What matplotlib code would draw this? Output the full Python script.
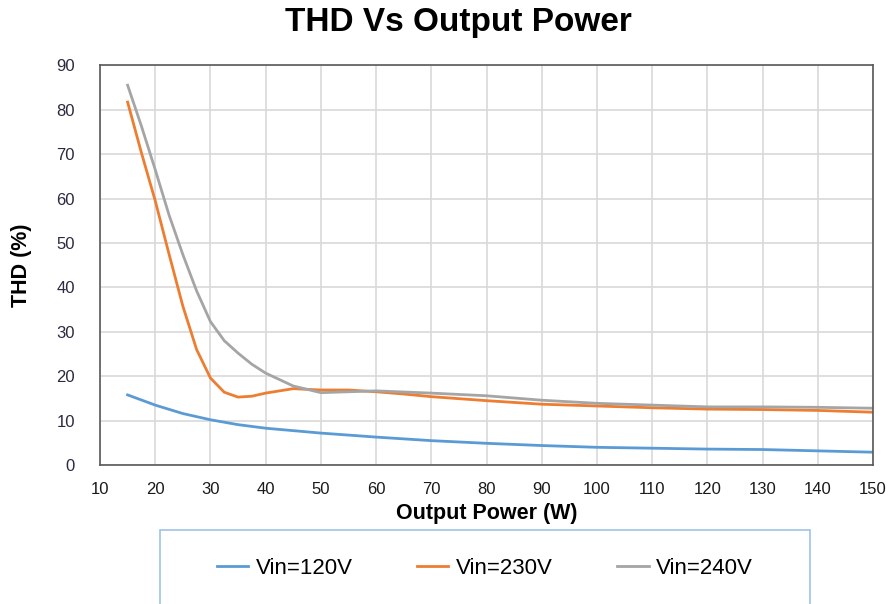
import matplotlib.pyplot as plt
from matplotlib.patches import Rectangle

plt.rcParams["font.family"] = ["Liberation Sans", "DejaVu Sans"]

# values
power_120 = [15, 20, 25, 30, 35, 40, 50, 60, 70, 80, 90, 100, 110, 120, 130, 140, 150]
thd_120 = [15.8, 13.5, 11.6, 10.2, 9.1, 8.3, 7.2, 6.3, 5.5, 4.9, 4.4, 4.0, 3.8, 3.6, 3.5, 3.2, 2.9]

power_230 = [15, 17.5, 20, 22.5, 25, 27.5, 30, 32.5, 35, 37.5, 40, 45, 50, 55, 60, 65,
             70, 80, 90, 100, 110, 120, 130, 140, 150]
thd_230 = [81.7, 70.3, 59.5, 47.5, 35.8, 26.0, 19.6, 16.4, 15.3, 15.5, 16.2, 17.2, 16.9, 16.9,
           16.5, 16.0, 15.4, 14.5, 13.7, 13.3, 12.9, 12.6, 12.5, 12.3, 11.9]

power_240 = [15, 17.5, 20, 22.5, 25, 27.5, 30, 32.5, 35, 37.5, 40, 45, 50, 55, 60,
             70, 80, 90, 100, 110, 120, 130, 140, 150]
thd_240 = [85.5, 76.3, 66.5, 56.3, 47.4, 39.2, 32.3, 28.0, 25.2, 22.7, 20.7, 17.8, 16.3, 16.5,
           16.7, 16.2, 15.6, 14.6, 13.9, 13.5, 13.1, 13.1, 13.0, 12.8]

fig = plt.figure(figsize=(8.88, 6.04), dpi=100)
ax = fig.add_axes([100 / 888, 0.230, 773 / 888, 0.662])

ax.plot(power_120, thd_120, color="#5b9bd5", linewidth=2, label="Vin=120V")
ax.plot(power_230, thd_230, color="#ed7d31", linewidth=2, label="Vin=230V")
ax.plot(power_240, thd_240, color="#a5a5a5", linewidth=2, label="Vin=240V")

ax.set_xlim(10, 150)
ax.set_ylim(0, 90)
ax.set_xticks(range(10, 151, 10))
ax.set_yticks(range(0, 91, 10))
ax.tick_params(axis="x", length=0, labelsize=12, pad=12, labelcolor="#1a1a1a")
ax.tick_params(axis="y", length=0, labelsize=12, pad=18, labelcolor="#2a2a40")
ax.grid(color="#d9d9d9", linewidth=1.2)
ax.set_axisbelow(True)
for s in ax.spines.values():
    s.set_color("#595959")
    s.set_linewidth(1.2)

ax.set_xlabel("Output Power (W)", fontsize=15.5, fontweight="bold")
ax.xaxis.set_label_coords(0.5, -0.095)
ax.set_ylabel("THD (%)", fontsize=15.5, fontweight="bold")
ax.yaxis.set_label_coords(-0.088, 0.5)
fig.text(0.516, 0.962, "THD Vs Output Power", ha="center", va="center",
         fontsize=24, fontweight="bold")

# legend box
fig.patches.append(Rectangle((160 / 888, -0.01), 650 / 888, 80 / 604,
                             transform=fig.transFigure, facecolor="white",
                             edgecolor="#9dc3e6", linewidth=1.2))
leg = fig.legend(loc="center", bbox_to_anchor=(485 / 888, 1 - 568 / 604),
                 ncol=3, frameon=False, fontsize=16, handlelength=1.4,
                 handletextpad=0.35, columnspacing=2.9)

fig.savefig("out.png", dpi=100)
